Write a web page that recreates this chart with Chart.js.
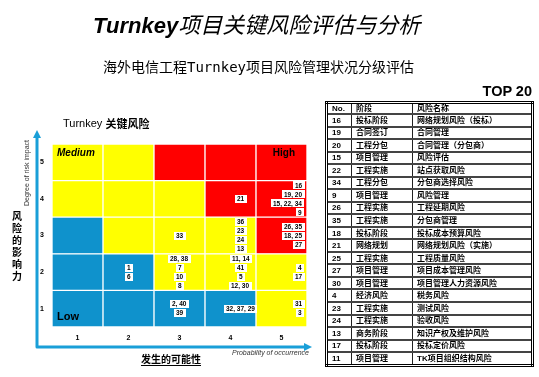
<!DOCTYPE html>
<html lang="zh">
<head>
<meta charset="utf-8">
<script src="https://cdn.jsdelivr.net/npm/chart.js@4.4.1/dist/chart.umd.min.js"></script>
<style>
    html, body { margin: 0; padding: 0; background: #fff; }
    #wrap { position: relative; width: 539px; height: 377px; overflow: hidden; }
    #chart { position: absolute; left: 0; top: 0; }
    .title { position: absolute; left: 93px; top: 7px; white-space: nowrap; line-height: 30px; font-size: 22px; color: #000; }
    .title b { font: italic 900 22px "Liberation Sans", Arial, sans-serif; }
    .title span { font: italic 400 22px "Noto Sans CJK SC", sans-serif; }
    .subtitle { position: absolute; left: 103px; top: 56px; white-space: nowrap; line-height: 18px; font: 14px "Noto Sans CJK SC", sans-serif; color: #000; }
    .subtitle i { font: normal 14px "DejaVu Sans Mono", monospace; }
    #top20 { position: absolute; right: 7px; top: 83px; font: bold 14.5px "Liberation Sans", Arial, sans-serif; color: #000; }
    #riskTable { position: absolute; left: 325px; top: 101px; width: 209px; height: 266px; border-collapse: collapse; table-layout: fixed; border: 3px double #000; font: bold 8px "Liberation Sans", "Noto Sans CJK SC", sans-serif; color: #000; }
    #riskTable td, #riskTable th { border-left: 1px solid #222; border-right: 1px solid #222; border-top: 2px solid #444; border-bottom: 2px solid #444; padding: 0 0 0 4px; line-height: 9px; text-align: left; white-space: nowrap; overflow: hidden; font-weight: bold; }
</style>
</head>
<body>
<div id="wrap">
    <canvas id="chart" width="539" height="377"></canvas>
    <div class="title"><b>Turnkey</b><span>项目关键风险评估与分析</span></div>
    <div class="subtitle">海外电信工程<i>Turnkey</i>项目风险管理状况分级评估</div>
    <div id="top20">TOP 20</div>
    <table id="riskTable">
        <colgroup><col style="width:25px"><col style="width:61px"><col></colgroup>
        <thead><tr><th>No.</th><th>阶段</th><th>风险名称</th></tr></thead>
        <tbody></tbody>
    </table>
</div>
<script>
// axes
const probabilityTicks = ['1', '2', '3', '4', '5'];
const impactTicks = ['1', '2', '3', '4', '5'];

// risk level of each cell, one row per impact level, columns = probability 1..5
const impact1Levels = ['Low', 'Low', 'Low', 'Low', 'Medium'];
const impact2Levels = ['Low', 'Low', 'Medium', 'Medium', 'Medium'];
const impact3Levels = ['Low', 'Medium', 'Medium', 'Medium', 'High'];
const impact4Levels = ['Medium', 'Medium', 'Medium', 'High', 'High'];
const impact5Levels = ['Medium', 'Medium', 'High', 'High', 'High'];
const cellSpan = [1, 1, 1, 1, 1];

// risk numbers placed in the matrix
const labelProbability = [5, 4, 5, 3, 4, 2, 3, 4, 5, 3, 4, 5];
const labelImpact = [4, 4, 3, 3, 3, 2, 2, 2, 2, 1, 1, 1];
const labelRiskIds = [
    ['16', '19, 20', '15, 22, 34', '9'],
    ['21'],
    ['26, 35', '18, 25', '27'],
    ['33'],
    ['36', '23', '24', '13'],
    ['1', '6'],
    ['28, 38', '7', '10', '8'],
    ['11, 14', '41', '5', '12, 30'],
    ['4', '17'],
    ['2, 40', '39'],
    ['32, 37, 29'],
    ['31', '3']
];

// TOP 20 table
const riskIds = ['16', '19', '20', '15', '22', '34', '9', '26', '35', '18', '21', '25', '27', '30', '4', '23', '24', '13', '17', '11'];
const riskStages = ['投标阶段', '合同签订', '工程分包', '项目管理', '工程实施', '工程分包', '项目管理', '工程实施', '工程实施', '投标阶段',
    '网络规划', '工程实施', '项目管理', '项目管理', '经济风险', '工程实施', '工程实施', '商务阶段', '投标阶段', '项目管理'];
const riskNames = ['网络规划风险（投标）', '合同管理', '合同管理（分包商）', '风险评估', '站点获取风险', '分包商选择风险', '风险管理',
    '工程延期风险', '分包商管理', '投标成本预算风险', '网络规划风险（实施）', '工程质量风险', '项目成本管理风险', '项目管理人力资源风险',
    '税务风险', '测试风险', '验收风险', '知识产权及维护风险', '投标定价风险', 'TK项目组织结构风险'];

const levelColors = { Low: '#0f92cc', Medium: '#ffff00', High: '#ff0000' };
const impactRows = [impact1Levels, impact2Levels, impact3Levels, impact4Levels, impact5Levels];

const tbody = document.querySelector('#riskTable tbody');
riskIds.forEach((id, i) => {
    const tr = document.createElement('tr');
    [id, riskStages[i], riskNames[i]].forEach(text => {
        const td = document.createElement('td');
        td.textContent = text;
        tr.appendChild(td);
    });
    tbody.appendChild(tr);
});

const SANS = '"Liberation Sans", Arial, sans-serif';
const CJK = '"Noto Sans CJK SC", sans-serif';
const AXIS_BLUE = '#1a9fd8';

const matrixOverlay = {
    id: 'matrixOverlay',
    afterDatasetsDraw(chart) {
        const { ctx, chartArea: area, scales } = chart;
        const xs = scales.x, ys = scales.y;
        const colW = xs.getPixelForValue(1) - xs.getPixelForValue(0);
        ctx.save();

        // risk id boxes
        ctx.font = 'bold 6.5px ' + SANS;
        ctx.textBaseline = 'middle';
        ctx.textAlign = 'left';
        labelRiskIds.forEach((lines, k) => {
            const col = labelProbability[k] - 1;
            const cx = xs.getPixelForValue(col);
            const cy = ys.getPixelForValue(labelImpact[k] - 0.5);
            lines.forEach((txt, j) => {
                const ty = cy + (j - (lines.length - 1) / 2) * 9;
                const w = ctx.measureText(txt).width + 4;
                let left;
                if (col === 4) left = cx + colW / 2 - 3 - w;
                else if (col === 3) left = cx + 10 - w / 2;
                else left = cx - w / 2;
                left = Math.round(left);
                ctx.fillStyle = '#fff';
                ctx.fillRect(left, Math.round(ty - 4), Math.ceil(w), 8);
                ctx.fillStyle = '#000';
                ctx.fillText(txt, left + 2, ty + 0.5);
            });
        });

        // zone names
        ctx.fillStyle = '#000';
        ctx.textBaseline = 'middle';
        ctx.font = 'italic bold 10px ' + SANS;
        ctx.fillText('Medium', area.left + 5, area.top + 9);
        ctx.font = 'bold 10px ' + SANS;
        ctx.textAlign = 'right';
        ctx.fillText('High', area.right - 12, area.top + 9);
        ctx.textAlign = 'left';
        ctx.font = 'bold 11px ' + SANS;
        ctx.fillText('Low', area.left + 5, area.bottom - 10);
        ctx.restore();
    },
    afterDraw(chart) {
        const { ctx, chartArea: area } = chart;
        const ax = area.left - 15;
        const ay = area.bottom + 20;
        ctx.save();

        // blue axis arrows
        ctx.strokeStyle = AXIS_BLUE;
        ctx.fillStyle = AXIS_BLUE;
        ctx.lineWidth = 3;
        ctx.lineJoin = 'round';
        ctx.beginPath();
        ctx.moveTo(ax, area.top - 8);
        ctx.lineTo(ax, ay);
        ctx.lineTo(area.right - 2, ay);
        ctx.stroke();
        ctx.beginPath();
        ctx.moveTo(ax, area.top - 14);
        ctx.lineTo(ax - 4, area.top - 6);
        ctx.lineTo(ax + 4, area.top - 6);
        ctx.closePath();
        ctx.fill();
        ctx.beginPath();
        ctx.moveTo(area.right + 5, ay);
        ctx.lineTo(area.right - 3, ay - 4);
        ctx.lineTo(area.right - 3, ay + 4);
        ctx.closePath();
        ctx.fill();

        // chart caption
        ctx.fillStyle = '#000';
        ctx.textBaseline = 'middle';
        ctx.textAlign = 'left';
        ctx.font = '11px ' + SANS;
        const cap = 'Turnkey ';
        ctx.fillText(cap, area.left + 11, area.top - 20);
        const capW = ctx.measureText(cap).width;
        ctx.font = 'bold 11px ' + CJK;
        ctx.fillText('关键风险', area.left + 11 + capW, area.top - 20);

        // y axis titles
        ctx.font = 'bold 10px ' + CJK;
        ctx.textAlign = 'center';
        ['风', '险', '的', '影', '响', '力'].forEach((ch, i) => {
            ctx.fillText(ch, 17, area.top + 72 + i * 12);
        });
        ctx.save();
        ctx.translate(27, area.top + 29);
        ctx.rotate(-Math.PI / 2);
        ctx.font = '7px ' + SANS;
        ctx.fillStyle = '#333';
        ctx.fillText('Degree of risk impact', 0, 0);
        ctx.restore();

        // x axis titles
        ctx.font = 'bold 10px ' + CJK;
        ctx.textAlign = 'center';
        const xt = '发生的可能性';
        const xtx = 171, xty = ay + 12;
        ctx.fillText(xt, xtx, xty);
        const xtw = ctx.measureText(xt).width;
        ctx.fillRect(xtx - xtw / 2, xty + 6, xtw, 1);
        ctx.font = 'italic 7px ' + SANS;
        ctx.fillStyle = '#333';
        ctx.textAlign = 'right';
        ctx.fillText('Probability of occurrence', area.right + 2, ay + 6);
        ctx.restore();
    }
};

new Chart(document.getElementById('chart'), {
    type: 'bar',
    data: {
        labels: probabilityTicks,
        datasets: impactRows.map((levels, r) => ({
            label: 'Impact ' + impactTicks[r],
            data: cellSpan,
            backgroundColor: levels.map(l => levelColors[l]),
            borderColor: '#ffffff',
            borderWidth: 1,
            borderSkipped: false,
            barPercentage: 1,
            categoryPercentage: 1
        }))
    },
    options: {
        responsive: false,
        animation: false,
        devicePixelRatio: 1,
        layout: { padding: { left: 37, top: 144, right: 232, bottom: 30 } },
        plugins: {
            legend: { display: false },
            tooltip: { enabled: false }
        },
        scales: {
            x: {
                stacked: true,
                grid: { display: false, drawTicks: false },
                border: { display: false },
                ticks: { padding: 7, color: '#000', font: { family: SANS, size: 7, weight: 'bold' } },
                afterFit: s => { s.height = 20; }
            },
            y: {
                stacked: true,
                min: 0,
                max: 5,
                grid: { display: false, drawTicks: false },
                border: { display: false },
                afterBuildTicks: s => { s.ticks = impactTicks.map((t, i) => ({ value: i + 0.5 })); },
                ticks: {
                    padding: 8,
                    color: '#000',
                    font: { family: SANS, size: 7, weight: 'bold' },
                    callback: (v, i) => impactTicks[i]
                },
                afterFit: s => { s.width = 15; }
            }
        }
    },
    plugins: [matrixOverlay]
});
</script>
</body>
</html>
